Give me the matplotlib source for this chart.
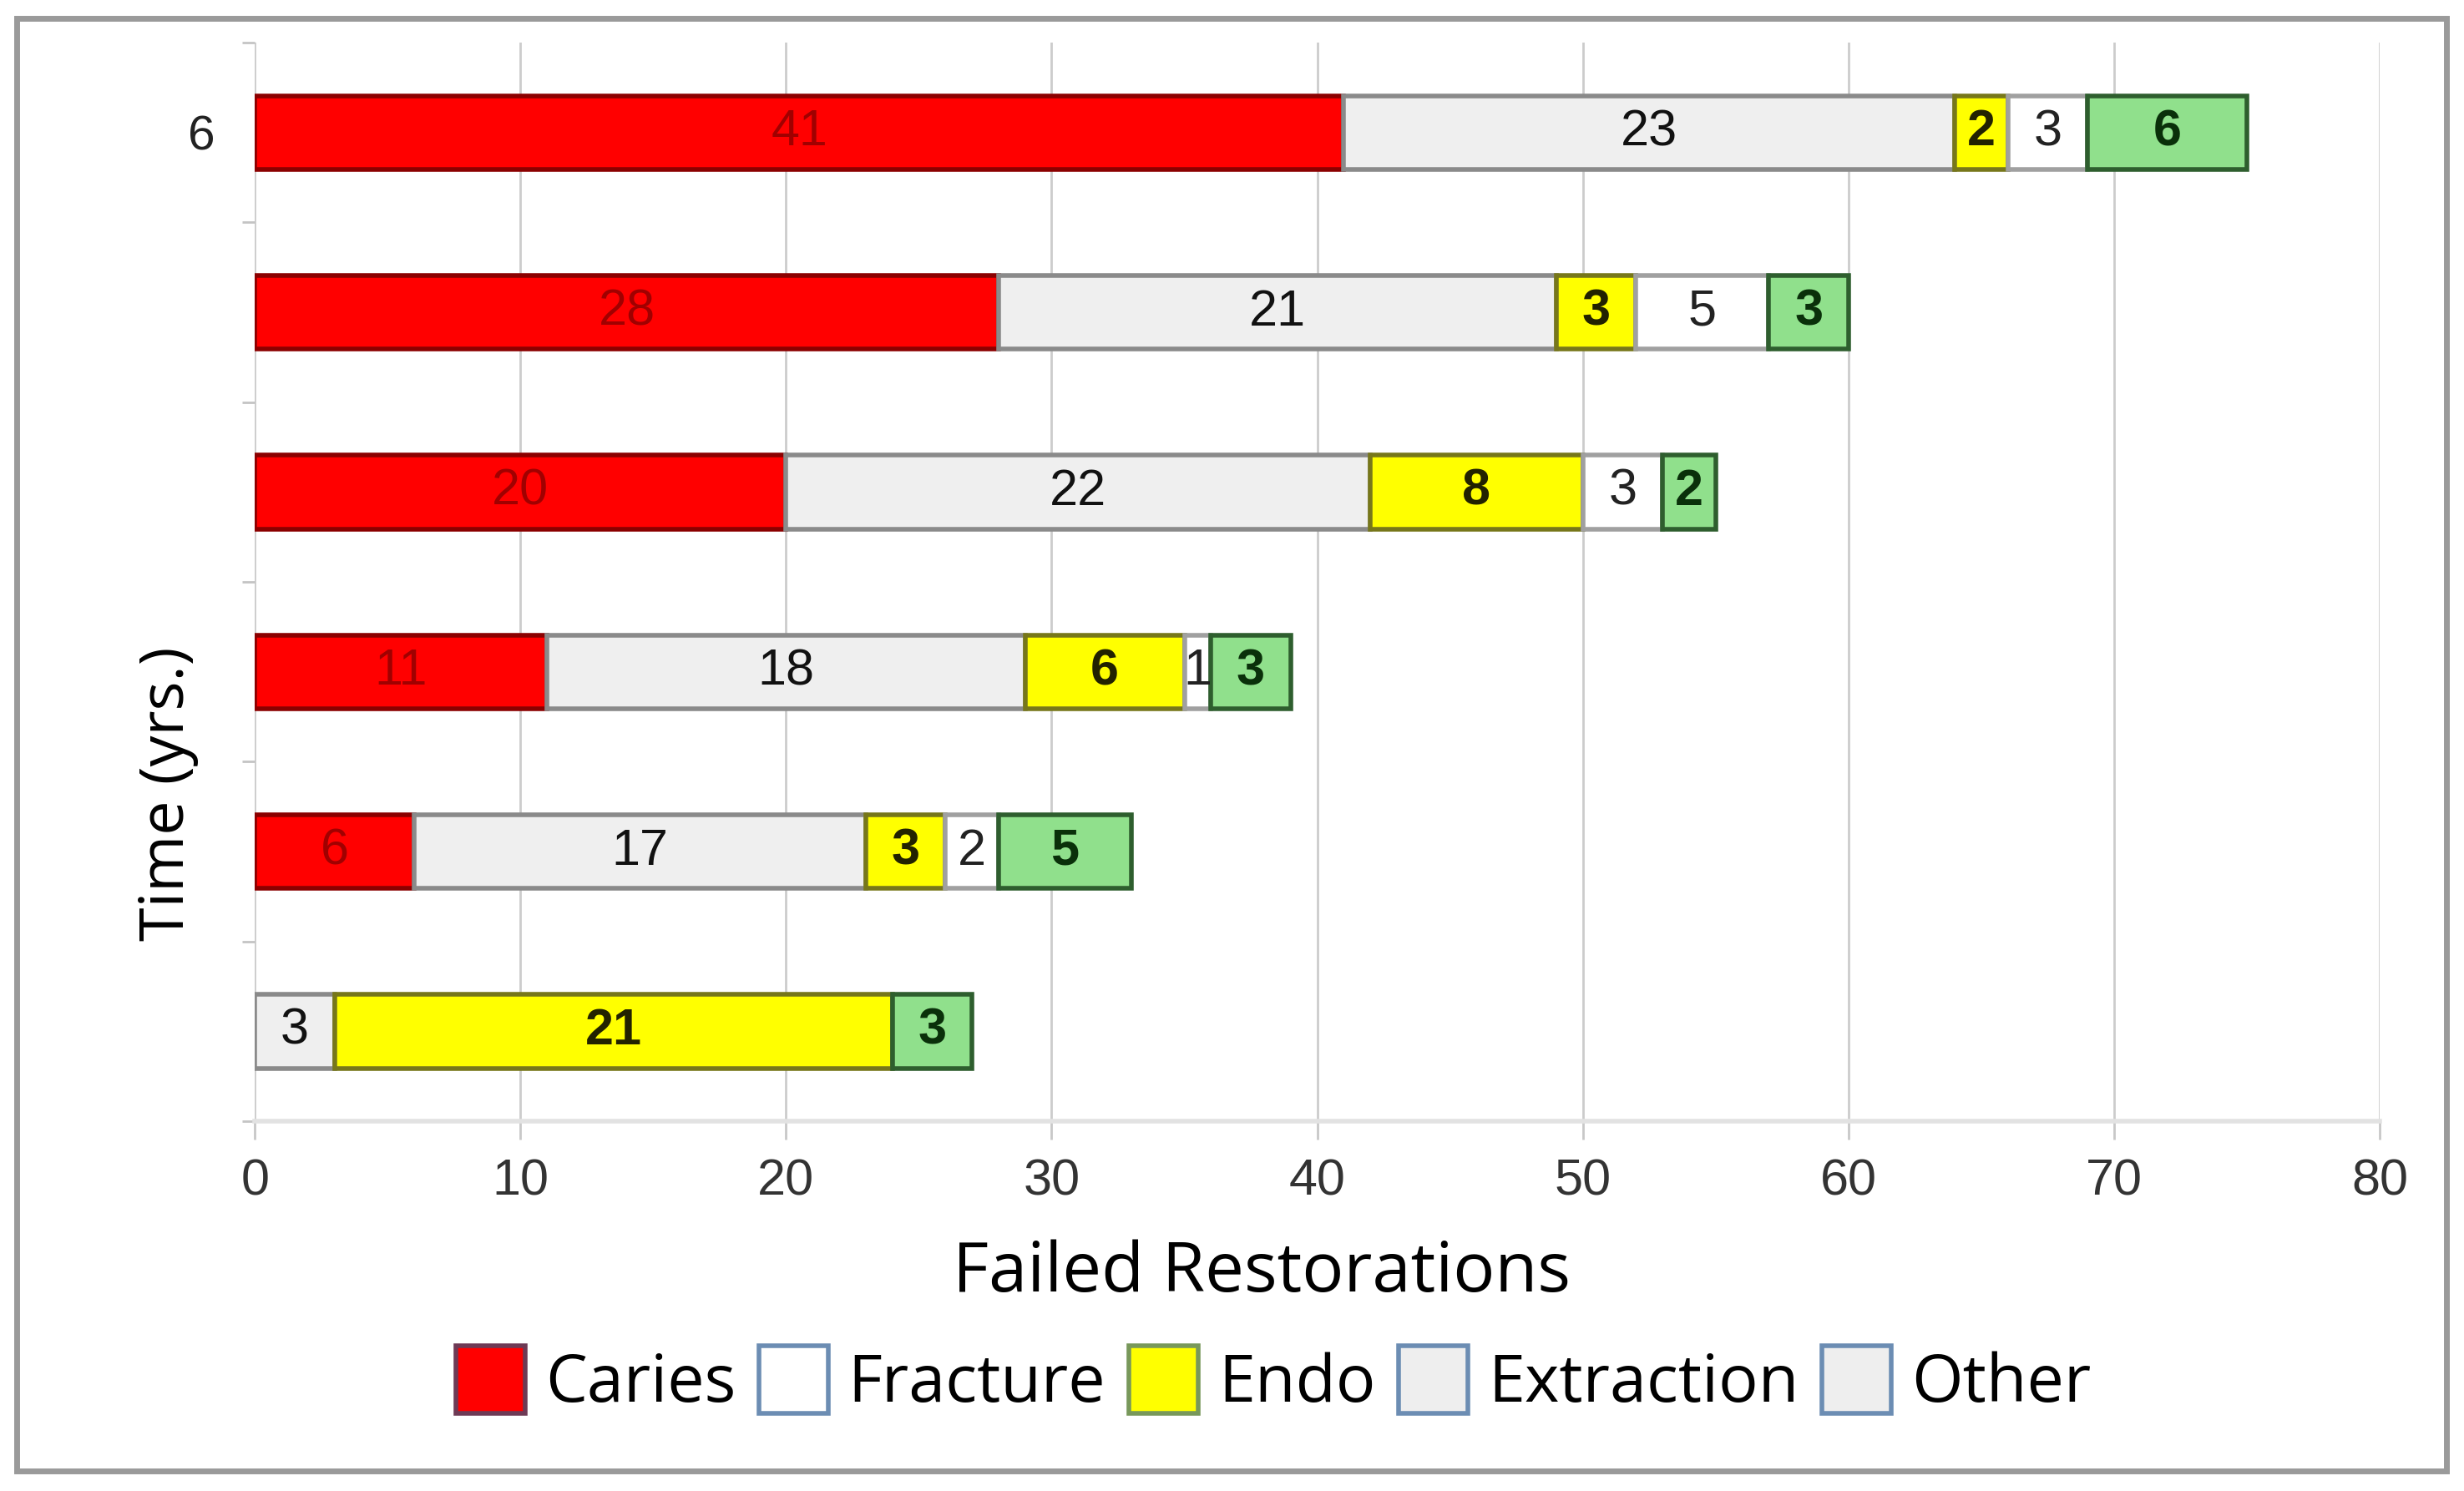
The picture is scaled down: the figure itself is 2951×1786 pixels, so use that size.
import matplotlib.pyplot as plt
from matplotlib.patches import Patch, Rectangle

# failed restorations per year, stacked by cause
years = [1, 2, 3, 4, 5, 6]
ytick_labels = ['', '', '', '', '', '6']
caries = [0, 6, 11, 20, 28, 41]
fracture = [3, 17, 18, 22, 21, 23]
endo = [21, 3, 6, 8, 3, 2]
extraction = [0, 2, 1, 3, 5, 3]
other = [3, 5, 3, 2, 3, 6]
xticks = [0, 10, 20, 30, 40, 50, 60, 70, 80]

legend_names = ['Caries', 'Fracture', 'Endo', 'Extraction', 'Other']

narrow = ['Liberation Sans Narrow', 'Liberation Sans', 'DejaVu Sans']

fig = plt.figure(figsize=(29.51, 17.86), dpi=100)
ax = fig.add_axes([0.1034, 0.2480, 0.8624, 0.7234])

pos = [y - 1 for y in years]
series = [caries, fracture, endo, extraction, other]
fills = ['#FF0000', '#EFEFEF', '#FFFF00', '#FFFFFF', '#90E08C']
edges = ['#8B0000', '#8A8A8A', '#77771A', '#A0A0A0', '#2E5E2E']
text_cols = ['#A00000', '#111111', '#222200', '#222222', '#0A300A']
weights = ['normal', 'normal', 'bold', 'normal', 'bold']

left = [0] * len(years)
for vals, fc, ec, tc, fw in zip(series, fills, edges, text_cols, weights):
    ecs = [ec if v else 'none' for v in vals]
    bars = ax.barh(pos, vals, left=left, height=0.41, color=fc,
                   edgecolor=ecs, linewidth=4, zorder=3)
    labs = [str(v) if v else '' for v in vals]
    ax.bar_label(bars, labels=labs, label_type='center', color=tc,
                 fontsize=44, family=narrow, fontweight=fw, zorder=4)
    left = [a + b for a, b in zip(left, vals)]

ax.set_xlim(0, 80)
ax.set_ylim(-0.5, 5.5)
ax.set_xticks(xticks)
ax.set_xticklabels([str(t) for t in xticks], family=narrow, fontsize=44,
                   color='#333333')
ax.tick_params(axis='x', length=16, width=2, color='#C8C8C8', pad=16)

ax.set_yticks(pos)
ax.set_yticklabels(ytick_labels, family=narrow, fontsize=42, color='#222222')
ax.set_yticks([p - 0.5 for p in pos] + [pos[-1] + 0.5], minor=True)
ax.tick_params(axis='y', which='major', length=0, pad=34)
ax.tick_params(axis='y', which='minor', length=11, width=2, color='#C4C4C4')

ax.grid(axis='x', color='#CCCCCC', linewidth=2, zorder=0)
ax.set_axisbelow(True)
for s in ['top', 'right', 'left']:
    ax.spines[s].set_visible(False)
ax.spines['bottom'].set_color('#E2E2E2')
ax.spines['bottom'].set_linewidth(4)

ax.set_xlabel('Failed Restorations', family='Open Sans', fontsize=60,
              va='baseline')
ax.xaxis.set_label_coords(0.474, -0.158)
ax.set_ylabel('Time (yrs.)', family='Open Sans', fontsize=53)
ax.yaxis.label.set_va('center')
ax.yaxis.set_label_coords(-0.0408, 0.304)

leg_fills = ['#FF0000', '#FFFFFF', '#FFFF00', '#EEEEEE', '#EEEEEE']
leg_edges = ['#6E3A55', '#6C8DB3', '#78985A', '#6C8DB3', '#6C8DB3']
handles = [Patch(facecolor=f, edgecolor=e, linewidth=4, label=n)
           for f, e, n in zip(leg_fills, leg_edges, legend_names)]
fig.legend(handles=handles, loc='center', bbox_to_anchor=(0.5168, 0.0733),
           ncol=5, frameon=False, prop={'family': 'Open Sans', 'size': 57},
           handlelength=1.05, handleheight=1.2, handletextpad=0.3,
           columnspacing=0.35, borderpad=0)

fig.patches.append(Rectangle((0.0068, 0.0134), 0.9861, 0.9743,
                             transform=fig.transFigure, fill=False,
                             edgecolor='#9A9A9A', linewidth=5))

fig.savefig('out.png', dpi=100, facecolor='white')
